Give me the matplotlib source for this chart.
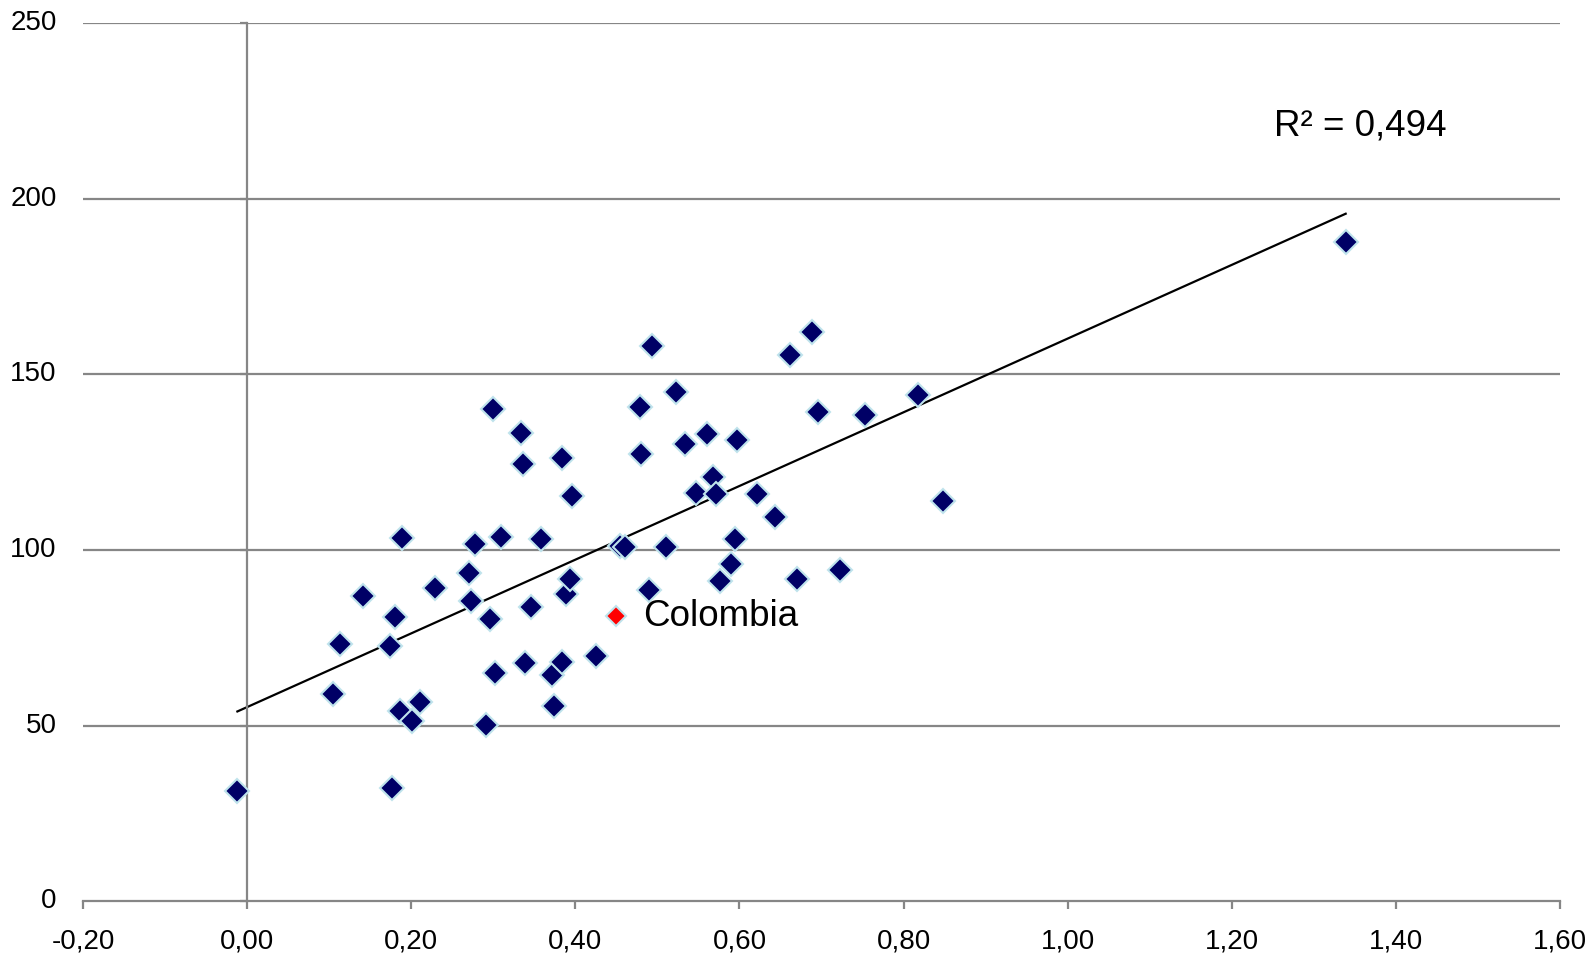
import numpy as np
import matplotlib.pyplot as plt
from matplotlib.ticker import FuncFormatter

plt.rcParams['font.family'] = ['Liberation Sans', 'DejaVu Sans']

# datos
x_vals = [-0.012, 0.104, 0.113, 0.141, 0.174, 0.180, 0.177, 0.186, 0.189, 0.201,
          0.211, 0.229, 0.270, 0.273, 0.278, 0.291, 0.296, 0.300, 0.302, 0.309,
          0.334, 0.336, 0.338, 0.346, 0.358, 0.372, 0.374, 0.384, 0.384, 0.388,
          0.393, 0.396, 0.425, 0.455, 0.460, 0.479, 0.480, 0.490, 0.494, 0.510,
          0.523, 0.534, 0.547, 0.560, 0.568, 0.571, 0.576, 0.590, 0.595, 0.597,
          0.622, 0.643, 0.662, 0.670, 0.689, 0.696, 0.723, 0.753, 0.818, 0.848,
          1.339]
y_vals = [31.5, 58.9, 73.3, 86.9, 72.7, 80.8, 32.3, 54.3, 103.3, 51.4,
          56.6, 89.2, 93.5, 85.5, 101.6, 50.2, 80.5, 140.3, 65.0, 103.6,
          133.4, 124.4, 67.8, 83.7, 103.1, 64.4, 55.7, 126.2, 68.1, 87.5,
          91.8, 115.5, 69.9, 101.2, 100.8, 140.6, 127.3, 88.6, 158.2, 101.0,
          144.9, 130.2, 116.3, 133.1, 120.7, 116.1, 91.2, 96.1, 103.1, 131.3,
          116.1, 109.4, 155.6, 91.8, 162.0, 139.4, 94.4, 138.6, 144.3, 114.0,
          187.6]
col_x = [0.450]
col_y = [81.1]
col_label = "Colombia"
r2_text = "R² = 0,494"

xticks = [-0.2, 0.0, 0.2, 0.4, 0.6, 0.8, 1.0, 1.2, 1.4, 1.6]
yticks = [0, 50, 100, 150, 200, 250]

fig = plt.figure(figsize=(15.9, 9.56), dpi=100)
ax = fig.add_axes([0.0523, 0.0573, 0.9287, 0.9183])
ax.set_xlim(-0.2, 1.6)
ax.set_ylim(0, 250)

grid_c = '#868686'
for y in yticks[1:]:
    ax.axhline(y, color=grid_c, lw=1.6, zorder=1)

# eje y cruzando en 0
ax.spines['left'].set_position(('data', 0))
ax.spines['left'].set_color(grid_c)
ax.spines['left'].set_linewidth(1.6)
ax.spines['bottom'].set_color(grid_c)
ax.spines['bottom'].set_linewidth(1.6)
ax.spines['top'].set_visible(False)
ax.spines['right'].set_visible(False)

ax.set_yticks(yticks)
ax.tick_params(axis='y', direction='out', length=5, color=grid_c, width=1.6,
               labelleft=False)
for y in yticks:
    ax.text(-0.018, y, f"{y}", transform=ax.get_yaxis_transform(),
            ha='right', va='center', fontsize=20)

ax.set_xticks(xticks)
ax.xaxis.set_major_formatter(FuncFormatter(lambda v, p: f"{v:.2f}".replace('.', ',')))
ax.tick_params(axis='x', direction='out', length=6, color=grid_c, width=1.6,
               labelsize=20, pad=14)

# linea de tendencia
coef = np.polyfit(x_vals, y_vals, 1)
xs = np.array([min(x_vals), max(x_vals)])
ax.plot(xs, np.polyval(coef, xs), color='black', lw=1.6, zorder=2)

ax.plot(x_vals, y_vals, 'D', ms=12.5, mfc='#000066', mec='#BFE3EC', mew=1.5,
        zorder=3, clip_on=False)
ax.plot(col_x, col_y, 'D', ms=10.5, mfc='#FF0000', mec='#BFE3EC', mew=1.5,
        zorder=3)
ax.text(col_x[0] + 0.032, col_y[0], col_label, fontsize=26.5, va='center', ha='left')

ax.text(1.357, 220.8, r2_text, fontsize=26.5, va='center', ha='center')

fig.savefig('out.png', dpi=100)
